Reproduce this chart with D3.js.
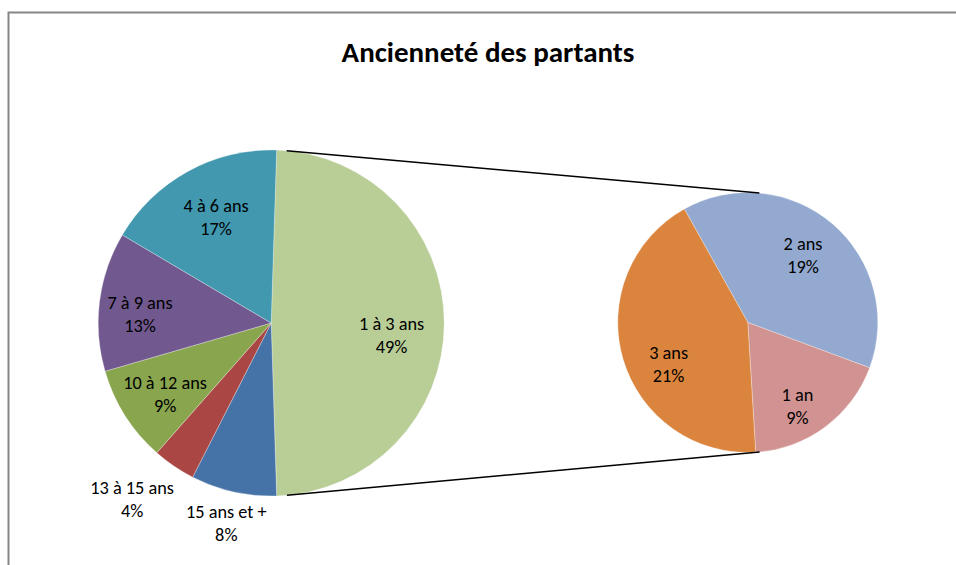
<!DOCTYPE html>
<html>
<head>
<meta charset="utf-8">
<script src="https://cdn.jsdelivr.net/npm/d3@7"></script>
<style>
  body { margin: 0; background: #fff; }
  svg { display: block; }
</style>
</head>
<body>
<script>
// Main pie: share of leavers by seniority (percent)
const mainCategories = ["1 à 3 ans", "15 ans et +", "13 à 15 ans", "10 à 12 ans", "7 à 9 ans", "4 à 6 ans"];
const mainValues = [49, 8, 4, 9, 13, 17];
// Breakdown of the "1 à 3 ans" slice
const detailCategories = ["2 ans", "1 an", "3 ans"];
const detailValues = [19, 9, 21];

const mainColors = ["#B9CD96", "#4572A7", "#AA4643", "#89A54E", "#71588F", "#4198AF"];
const detailColors = ["#93A9CF", "#D19392", "#DB843D"];

// Label placement: [radius factor, angular nudge in degrees]
const labelLayout = {
  "1 à 3 ans": [0.70, 6], "15 ans et +": [1.19, 0], "13 à 15 ans": [1.30, 4],
  "10 à 12 ans": [0.74, -1.6], "7 à 9 ans": [0.76, -3.5], "4 à 6 ans": [0.69, 1.3],
  "2 ans": [0.67, -1.3], "1 an": [0.75, 6], "3 ans": [0.69, -11.7]
};

const W = 956, H = 565;
const FONT = "Carlito, Calibri, Lato, 'Open Sans', sans-serif";
const svg = d3.select("body").append("svg").attr("width", W).attr("height", H);

// chart frame (extends past the right and bottom edges)
svg.append("rect")
  .attr("x", 8.5).attr("y", 12.5).attr("width", 1000).attr("height", 600)
  .attr("fill", "#fff").attr("stroke", "#868686").attr("stroke-width", 2);

svg.append("text")
  .attr("x", 488).attr("y", 62)
  .attr("text-anchor", "middle")
  .attr("font-family", FONT).attr("font-weight", "bold").attr("font-size", 29)
  .attr("fill", "#000")
  .text("Ancienneté des partants");

const total = d3.sum(mainValues);
const main = { cx: 271.2, cy: 323, r: 173 };
const detail = { cx: 747.8, cy: 322.5, r: 130 };

// the split slice is centred on 3 o'clock
const splitSpan = 2 * Math.PI * mainValues[0] / total;
const mainStart = Math.PI / 2 - splitSpan / 2;
const detailStart = -29.2 * Math.PI / 180;

const mainPie = d3.pie().sort(null).value(d => d.value)
  .startAngle(mainStart).endAngle(mainStart + 2 * Math.PI);
const detailPie = d3.pie().sort(null).value(d => d.value)
  .startAngle(detailStart).endAngle(detailStart + 2 * Math.PI);

const mainData = mainPie(mainCategories.map((c, i) => ({ name: c, value: mainValues[i], color: mainColors[i] })));
const detailData = detailPie(detailCategories.map((c, i) => ({ name: c, value: detailValues[i], color: detailColors[i] })));

function drawPie(data, geo) {
  const arc = d3.arc().innerRadius(0).outerRadius(geo.r);
  const g = svg.append("g").attr("transform", `translate(${geo.cx},${geo.cy})`);
  g.selectAll("path").data(data).join("path")
    .attr("d", arc)
    .attr("fill", d => d.data.color)
    .attr("stroke", "#ffffff").attr("stroke-width", 0.5).attr("stroke-opacity", 0.6);

  const labels = g.selectAll("g.lbl").data(data).join("g").attr("class", "lbl")
    .attr("transform", d => {
      const [f, nudge] = labelLayout[d.data.name];
      const a = (d.startAngle + d.endAngle) / 2 + nudge * Math.PI / 180;
      const rr = geo.r * f;
      return `translate(${rr * Math.sin(a)},${-rr * Math.cos(a)})`;
    });
  labels.append("text")
    .attr("text-anchor", "middle").attr("dominant-baseline", "central")
    .attr("font-family", FONT).attr("font-size", 18.3).attr("fill", "#000")
    .selectAll("tspan")
    .data(d => [d.data.name, Math.round(d.data.value / total * 100) + "%"])
    .join("tspan")
    .attr("x", 0)
    .attr("y", (t, i) => i === 0 ? -11.5 : 11.5)
    .text(t => t);
}

drawPie(mainData, main);
drawPie(detailData, detail);

// connector lines: outer common tangents of the two pies
const dx = detail.cx - main.cx, dy = detail.cy - main.cy;
const D = Math.hypot(dx, dy);
const ux = dx / D, uy = dy / D;
const cosA = (main.r - detail.r) / D, sinA = Math.sqrt(1 - cosA * cosA);
[-1, 1].forEach(s => {
  // normal = cosA*u + s*sinA*perp(u), perp = (-uy, ux)
  const nx = cosA * ux + s * sinA * (-uy);
  const ny = cosA * uy + s * sinA * ux;
  svg.append("line")
    .attr("x1", main.cx + main.r * nx).attr("y1", main.cy + main.r * ny)
    .attr("x2", detail.cx + detail.r * nx).attr("y2", detail.cy + detail.r * ny)
    .attr("stroke", "#000").attr("stroke-width", 1.5);
});
</script>
</body>
</html>
